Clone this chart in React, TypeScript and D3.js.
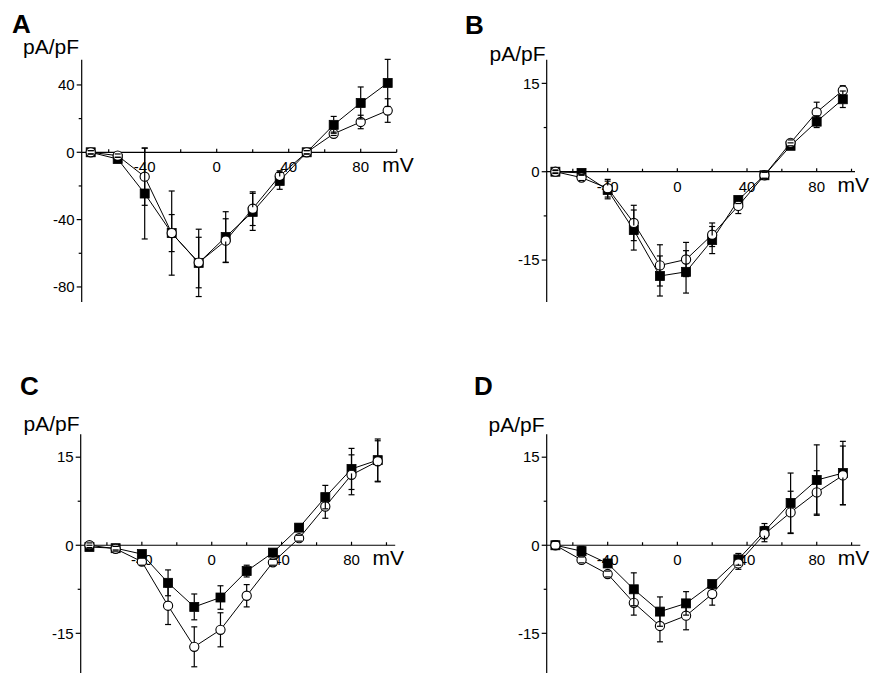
import React from "react";
import * as d3 from "d3";

const voltages = [-70, -55, -40, -25, -10, 5, 20, 35, 50, 65, 80, 95];

const aSquare = [0, -4, -24.5, -48, -65.7, -50.3, -35.4, -17, 0, 16.3, 29.3, 41.2];
const aSquareErr = [1, 1, 27, 25, 20, 15, 11, 5, 1, 5, 9.5, 14];
const aCircle = [0, -2, -14.5, -48, -65.5, -52.5, -33.5, -14, 0, 11, 18, 24.8];
const aCircleErr = [1, 1, 17, 11, 15, 13, 10, 3, 1, 1, 4, 7];

const bSquare = [0, -0.2, -3.1, -9.9, -17.7, -17.0, -11.6, -4.8, -0.6, 4.4, 8.5, 12.3];
const bSquareErr = [0.3, 0.4, 1.5, 3.4, 3.4, 3.6, 2.3, 0.6, 0.5, 0.5, 1, 1.4];
const bCircle = [0, -1.0, -2.8, -8.7, -15.9, -14.9, -10.7, -5.8, -0.6, 4.9, 10.1, 13.8];
const bCircleErr = [0.2, 0.5, 1.5, 3, 3.5, 2.9, 2, 1.3, 0.6, 0.5, 1.7, 0.8];

const cSquare = [-0.3, -0.5, -1.5, -6.4, -10.5, -8.9, -4.4, -1.25, 3.0, 8.2, 13.0, 14.5];
const cSquareErr = [0.3, 0.3, 0.6, 2.2, 2.2, 2, 1, 0.5, 0.6, 2, 3.5, 3.6];
const cCircle = [0, -0.6, -2.8, -10.3, -17.3, -14.4, -8.6, -2.9, 1.2, 6.6, 12.0, 14.3];
const cCircleErr = [0.4, 0.4, 0.6, 3.2, 3.4, 2.9, 1.9, 0.5, 0.5, 2, 3.4, 3.5];

const dSquare = [0, -1.0, -3.1, -7.5, -11.3, -9.9, -6.6, -2.4, 2.4, 7.2, 11.1, 12.3];
const dSquareErr = [0.7, 0.8, 0.5, 2.8, 2.5, 2, 0.5, 1, 1.3, 5.1, 6, 5.4];
const dCircle = [0, -2.5, -4.9, -9.8, -13.75, -12.0, -8.3, -3.1, 1.9, 5.6, 9.0, 11.9];
const dCircleErr = [0.7, 0.5, 0.5, 2.1, 2.7, 2.4, 1.9, 1, 1.3, 3.6, 3.7, 5];

const xMajorTicks = [-40, 0, 40, 80];
const xMinorTicks = [-60, -20, 20, 60, 100];
const xTickLabels = ["-40", "0", "40", "80"];
const yMajorA = [-80, -40, 0, 40];
const yMinorA = [-60, -20, 20];
const yMajorBCD = [-15, 0, 15];
const yMinorBCD = [-7.5, 7.5];

const yUnit = "pA/pF";
const xUnit = "mV";

const FONT = "Arial, 'Liberation Sans', Helvetica, sans-serif";

type PanelCfg = {
  letter: string;
  sq: number[];
  sqErr: number[];
  ci: number[];
  ciErr: number[];
  xDomain: [number, number];
  xRange: [number, number];
  yDomain: [number, number];
  yRange: [number, number];
  yMajor: number[];
  yMinor: number[];
  letterPos: [number, number];
  unitPos: [number, number];
};

const panels: PanelCfg[] = [
  {
    letter: "A", sq: aSquare, sqErr: aSquareErr, ci: aCircle, ciErr: aCircleErr,
    xDomain: [-75, 100], xRange: [81.7, 396.7], yDomain: [-89, 55], yRange: [302.1, 59.7],
    yMajor: yMajorA, yMinor: yMinorA, letterPos: [12, 33], unitPos: [23, 54],
  },
  {
    letter: "B", sq: bSquare, sqErr: bSquareErr, ci: bCircle, ciErr: bCircleErr,
    xDomain: [-75, 102], xRange: [546.7, 855], yDomain: [-22.1, 19], yRange: [301.9, 59.8],
    yMajor: yMajorBCD, yMinor: yMinorBCD, letterPos: [465, 33.5], unitPos: [489.5, 61],
  },
  {
    letter: "C", sq: cSquare, sqErr: cSquareErr, ci: cCircle, ciErr: cCircleErr,
    xDomain: [-75, 105], xRange: [80.7, 395.2], yDomain: [-22.1, 18.9], yRange: [675, 434.3],
    yMajor: yMajorBCD, yMinor: yMinorBCD, letterPos: [20, 395], unitPos: [23.5, 431],
  },
  {
    letter: "D", sq: dSquare, sqErr: dSquareErr, ci: dCircle, ciErr: dCircleErr,
    xDomain: [-75, 105], xRange: [546.7, 860.3], yDomain: [-22.1, 18.9], yRange: [675, 434.3],
    yMajor: yMajorBCD, yMinor: yMinorBCD, letterPos: [474, 395], unitPos: [488.5, 431.5],
  },
];

function Panel({ p }: { p: PanelCfg }) {
  const x = d3.scaleLinear().domain(p.xDomain).range(p.xRange);
  const y = d3.scaleLinear().domain(p.yDomain).range(p.yRange);
  const y0 = y(0);
  const xa = x(p.xDomain[0]);
  const line = d3
    .line<number>()
    .x((_, i) => x(voltages[i]))
    .y((d) => y(d));

  const sqHalf = 4.5;
  const ciR = 4.6;
  const cap = 3;

  const bars = (vals: number[], errs: number[], gap: number, key: string) =>
    vals.map((v, i) => {
      const cx = x(voltages[i]);
      const cy = y(v);
      const top = y(v + errs[i]);
      const bot = y(v - errs[i]);
      const segs: JSX.Element[] = [];
      if (cy - top > gap) {
        segs.push(<line key={key + "u" + i} x1={cx} x2={cx} y1={top} y2={cy - gap} />);
      }
      if (bot - cy > gap) {
        segs.push(<line key={key + "d" + i} x1={cx} x2={cx} y1={cy + gap} y2={bot} />);
      }
      segs.push(<line key={key + "ct" + i} x1={cx - cap} x2={cx + cap} y1={top} y2={top} />);
      segs.push(<line key={key + "cb" + i} x1={cx - cap} x2={cx + cap} y1={bot} y2={bot} />);
      return segs;
    });

  return (
    <g>
      {/* axes */}
      <g stroke="#000" strokeWidth={1.2} fill="none">
        <line x1={xa} x2={xa} y1={p.yRange[1]} y2={p.yRange[0]} />
        <line x1={xa} x2={p.xRange[1]} y1={y0} y2={y0} />
        {p.yMajor.map((t) => (
          <line key={"ym" + t} x1={xa - 5} x2={xa} y1={y(t)} y2={y(t)} />
        ))}
        {p.yMinor.map((t) => (
          <line key={"yn" + t} x1={xa - 3} x2={xa} y1={y(t)} y2={y(t)} />
        ))}
        {xMajorTicks.map((t) => (
          <line key={"xm" + t} x1={x(t)} x2={x(t)} y1={y0 - 3.5} y2={y0} />
        ))}
        {xMinorTicks.map((t) => (
          <line key={"xn" + t} x1={x(t)} x2={x(t)} y1={y0 - 3} y2={y0} />
        ))}
      </g>
      <g fontFamily={FONT} fontSize={15} fill="#000">
        {p.yMajor.map((t) => (
          <text key={"yl" + t} x={xa - 7} y={y(t) + 5.3} textAnchor="end">
            {t}
          </text>
        ))}
        {xMajorTicks.map((t, i) => (
          <text key={"xl" + t} x={x(t)} y={y0 + 20} textAnchor="middle">
            {xTickLabels[i]}
          </text>
        ))}
      </g>
      <text x={x(92)} y={y0 + 20} fontFamily={FONT} fontSize={21}>
        {xUnit}
      </text>
      <text x={p.unitPos[0]} y={p.unitPos[1]} fontFamily={FONT} fontSize={21}>
        {yUnit}
      </text>
      <text x={p.letterPos[0]} y={p.letterPos[1]} fontFamily={FONT} fontSize={26} fontWeight="bold">
        {p.letter}
      </text>
      {/* series lines */}
      <path d={line(p.sq) || ""} fill="none" stroke="#000" strokeWidth={1} />
      <path d={line(p.ci) || ""} fill="none" stroke="#000" strokeWidth={1} />
      {/* markers */}
      {p.sq.map((v, i) => (
        <rect
          key={"s" + i}
          x={x(voltages[i]) - sqHalf}
          y={y(v) - sqHalf}
          width={sqHalf * 2}
          height={sqHalf * 2}
          fill="#000"
          stroke="#000"
          strokeWidth={0.8}
        />
      ))}
      {p.ci.map((v, i) => (
        <circle key={"c" + i} cx={x(voltages[i])} cy={y(v)} r={ciR} fill="#fff" stroke="#000" strokeWidth={1.1} />
      ))}
      {/* error bars */}
      <g stroke="#000" strokeWidth={1.2}>
        {bars(p.sq, p.sqErr, sqHalf, "sb")}
        {bars(p.ci, p.ciErr, ciR, "cb")}
      </g>
    </g>
  );
}

export default function App() {
  return (
    <svg
      width={875}
      height={673}
      viewBox="0 0 875 673"
      style={{ position: "absolute", left: 0, top: 0, background: "#fff" }}
    >
      <rect x={0} y={0} width={875} height={673} fill="#fff" />
      {panels.map((p) => (
        <Panel key={p.letter} p={p} />
      ))}
    </svg>
  );
}
